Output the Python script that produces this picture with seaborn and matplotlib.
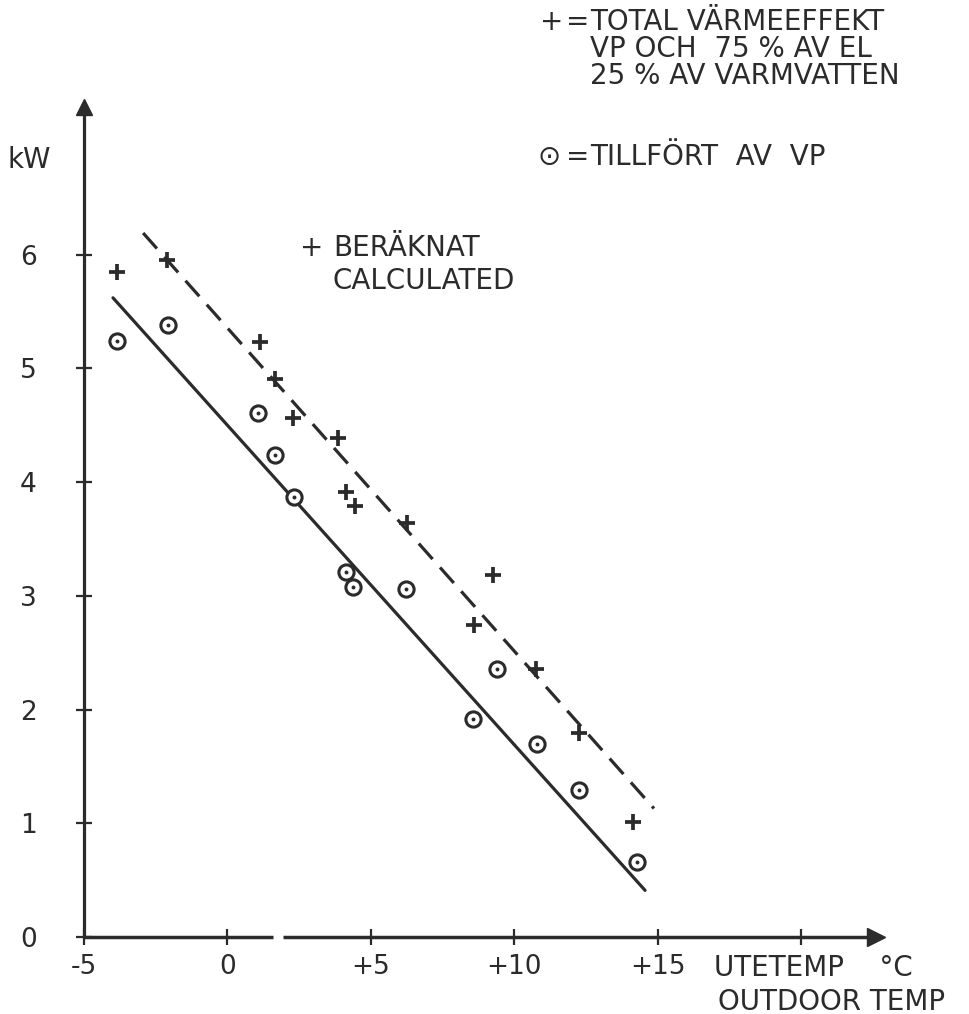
import numpy as np
import pandas as pd
import matplotlib.pyplot as plt
import seaborn as sns

# calculated total heat output (+) : VP + 75 % el + 25 % hot water
total_temp = [-3.85, -2.1, 1.13, 1.65, 2.28, 3.85, 4.13, 4.44, 6.25, 9.25, 8.59, 10.75, 12.25, 14.13]
total_kw = [5.85, 5.95, 5.23, 4.91, 4.56, 4.39, 3.91, 3.79, 3.64, 3.18, 2.74, 2.36, 1.79, 1.01]

# supplied by heat pump (circle with dot)
vp_temp = [-3.85, -2.07, 1.06, 1.65, 2.3, 4.13, 4.37, 6.22, 9.39, 8.55, 10.78, 12.25, 14.27]
vp_kw = [5.24, 5.38, 4.61, 4.24, 3.87, 3.21, 3.08, 3.06, 2.36, 1.92, 1.70, 1.29, 0.66]

# hand drawn fit lines (end points)
vp_fit_temp = [-3.99, 14.55]
vp_fit_kw = [5.62, 0.41]
total_fit_temp = [-2.94, 14.86]
total_fit_kw = [6.19, 1.13]

x_ticks = [-5, 0, 5, 10, 15, 20]
x_labels = ["-5", "0", "+5", "+10", "+15", ""]
y_ticks = [0, 1, 2, 3, 4, 5, 6]
y_labels = ["0", "1", "2", "3", "4", "5", "6"]

ink = "#2b2b2b"

sns.set_style("white")
plt.rcParams['font.family'] = ['DejaVu Sans']

W, H = 970, 1014
fig = plt.figure(figsize=(W / 100, H / 100), dpi=100)

def fx(px):
    return px / W

def fy(py):
    return 1 - py / H

ax = fig.add_axes([fx(84), fy(937), fx(887.6) - fx(84), fy(84) - fy(937)])
ax.set_xlim(-5, 23)
ax.set_ylim(0, 7.5)

# fit lines
sns.lineplot(x=vp_fit_temp, y=vp_fit_kw, color=ink, lw=2.3, ax=ax)
sns.lineplot(x=total_fit_temp, y=total_fit_kw, color=ink, lw=2.3,
             linestyle=(0, (6.5, 3.5)), ax=ax)

# markers
sns.scatterplot(x=total_temp, y=total_kw, marker="+", s=135, color=ink,
                linewidth=2.7, ax=ax, zorder=3)
sns.scatterplot(x=vp_temp, y=vp_kw, marker="o", s=120, facecolor="white",
                edgecolor=ink, linewidth=2.2, ax=ax, zorder=3)
sns.scatterplot(x=vp_temp, y=vp_kw, marker="o", s=8, color=ink,
                linewidth=0, ax=ax, zorder=4)

# axes
sns.despine(ax=ax)
ax.spines["left"].set_bounds(0, 7.3)
ax.spines["left"].set_linewidth(2.3)
ax.spines["left"].set_color(ink)
ax.spines["bottom"].set_visible(False)
ax.hlines(0, -5, 1.6, color=ink, lw=2.5, clip_on=False)
ax.hlines(0, 1.95, 22.5, color=ink, lw=2.5, clip_on=False)
ax.plot(22.6, 0, marker=">", ms=13, color=ink, clip_on=False)
ax.plot(-5, 7.3, marker="^", ms=12, color=ink, clip_on=False)

ax.set_xticks(x_ticks)
ax.set_xticklabels(x_labels)
ax.set_yticks(y_ticks)
ax.set_yticklabels(y_labels)
ax.tick_params(axis="both", direction="inout", length=12, width=1.6,
               color=ink, labelcolor=ink, labelsize=19)
ax.tick_params(axis="x", pad=6)
ax.tick_params(axis="y", pad=28)
ax.tick_params(axis="y", left=True)
ax.tick_params(axis="x", bottom=True)

# annotations
tkw = dict(color=ink, fontsize=20, va="center")
fig.text(fx(540), fy(22), "+", **tkw)
fig.text(fx(566), fy(22), "=", **tkw)
fig.text(fx(590), fy(22), "TOTAL VÄRMEEFFEKT", **tkw)
fig.text(fx(590), fy(49), "VP OCH  75 % AV EL", **tkw)
fig.text(fx(590), fy(76), "25 % AV VARMVATTEN", **tkw)
fig.text(fx(538), fy(157), "⊙", **tkw)
fig.text(fx(566), fy(157), "=", **tkw)
fig.text(fx(590), fy(157), "TILLFÖRT  AV  VP", **tkw)

fig.text(fx(300), fy(248), "+", **tkw)
fig.text(fx(333), fy(248), "BERÄKNAT", **tkw)
fig.text(fx(333), fy(281), "CALCULATED", **tkw)

fig.text(fx(8), fy(160), "kW", **tkw)

fig.text(fx(714), fy(968), "UTETEMP    °C", **tkw)
fig.text(fx(718), fy(1002), "OUTDOOR TEMP", **tkw)

fig.savefig("out.png", dpi=100, facecolor="white")
